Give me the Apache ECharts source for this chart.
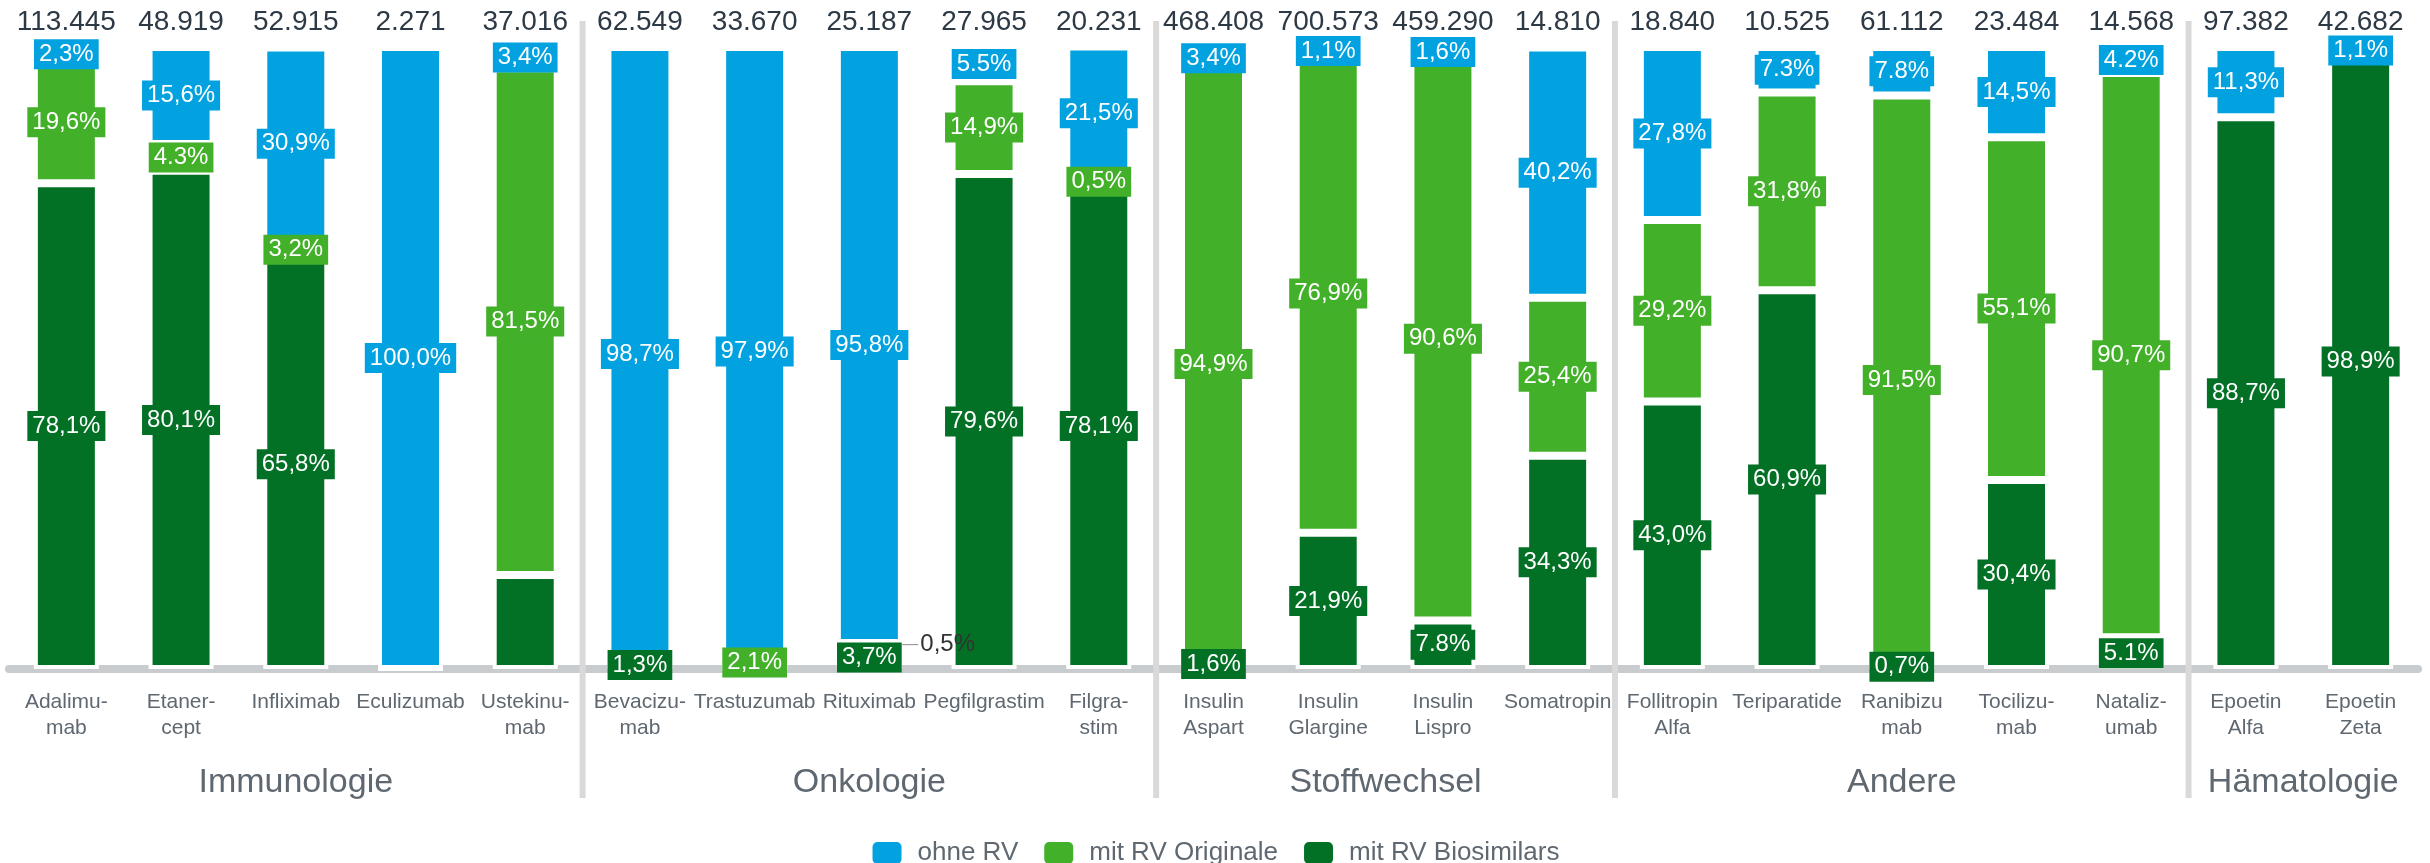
<!DOCTYPE html>
<html>
<head>
<meta charset="utf-8">
<script src="https://cdn.jsdelivr.net/npm/echarts@6/dist/echarts.min.js"></script>
<style>
  html, body { margin: 0; padding: 0; background: #fff; }
  #chart { width: 2430px; height: 863px; }
</style>
</head>
<body>
<div id="chart"></div>
<script>
  // Kategorien (Wirkstoffe) und Gesamtzahlen oben
  const categories = ['Adalimu-\nmab', 'Etaner-\ncept', 'Infliximab', 'Eculizumab', 'Ustekinu-\nmab',
    'Bevacizu-\nmab', 'Trastuzumab', 'Rituximab', 'Pegfilgrastim', 'Filgra-\nstim',
    'Insulin\nAspart', 'Insulin\nGlargine', 'Insulin\nLispro', 'Somatropin',
    'Follitropin\nAlfa', 'Teriparatide', 'Ranibizu\nmab', 'Tocilizu-\nmab', 'Nataliz-\numab',
    'Epoetin\nAlfa', 'Epoetin\nZeta'];
  const totals = ['113.445', '48.919', '52.915', '2.271', '37.016',
    '62.549', '33.670', '25.187', '27.965', '20.231',
    '468.408', '700.573', '459.290', '14.810',
    '18.840', '10.525', '61.112', '23.484', '14.568',
    '97.382', '42.682'];
  const groups = ['Immunologie', 'Onkologie', 'Stoffwechsel', 'Andere', 'Hämatologie'];
  const groupSizes = [5, 5, 4, 5, 2];

  // Anteile in %
  const ohneRV = [2.3, 15.6, 30.9, 100, 3.4, 98.7, 97.9, 95.8, 5.5, 21.5, 3.4, 1.1, 1.6, 40.2, 27.8, 7.3, 7.8, 14.5, 4.2, 11.3, 1.1];
  const originale = [19.6, 4.3, 3.2, 0, 81.5, 0, 2.1, 0.5, 14.9, 0.5, 94.9, 76.9, 90.6, 25.4, 29.2, 31.8, 91.5, 55.1, 90.7, 0, 0];
  const biosimilars = [78.1, 80.1, 65.8, 0, 15.1, 1.3, 0, 3.7, 79.6, 78.1, 1.6, 21.9, 7.8, 34.3, 43.0, 60.9, 0.7, 30.4, 5.1, 88.7, 98.9];

  // Beschriftungen wie im Original (leer = keine)
  const ohneLabels = ['2,3%', '15,6%', '30,9%', '100,0%', '3,4%', '98,7%', '97,9%', '95,8%', '5.5%', '21,5%',
    '3,4%', '1,1%', '1,6%', '40,2%', '27,8%', '7.3%', '7.8%', '14,5%', '4.2%', '11,3%', '1,1%'];
  const originaleLabels = ['19,6%', '4.3%', '3,2%', '', '81,5%', '', '2,1%', '0,5%', '14,9%', '0,5%',
    '94,9%', '76,9%', '90,6%', '25,4%', '29,2%', '31,8%', '91,5%', '55,1%', '90,7%', '', ''];
  const biosimilarLabels = ['78,1%', '80,1%', '65,8%', '', '', '1,3%', '', '3,7%', '79,6%', '78,1%',
    '1,6%', '21,9%', '7.8%', '34,3%', '43,0%', '60,9%', '0,7%', '30,4%', '5.1%', '88,7%', '98,9%'];
  const originaleOutside = [7];

  const FONT = 'Liberation Sans, Arial, sans-serif';
  const colors = { ohne: '#02a2e0', orig: '#43b02a', bio: '#037125' };

  function buildData(values, labels, outside) {
    return values.map(function (v, i) {
      let item = { value: v, label: { show: labels[i] !== '' && v > 0 } };
      if (outside && outside.indexOf(i) > -1) {
        item.label = {
          show: true, position: 'right', distance: 0,
          backgroundColor: 'transparent', color: '#333', padding: 0,
          formatter: '{l|—}' + labels[i],
          rich: { l: { color: '#999', fontSize: 16, padding: [0, 2, 0, 0] } }
        };
      }
      return item;
    });
  }

  function makeSeries(name, values, labels, color, outside) {
    return {
      name: name,
      type: 'bar',
      stack: 'total',
      barWidth: 65,
      itemStyle: { color: color, borderColor: '#fff', borderWidth: 4 },
      label: {
        show: true,
        position: 'inside',
        color: '#fff',
        fontFamily: FONT,
        fontSize: 24,
        lineHeight: 24,
        backgroundColor: color,
        padding: [3, 5],
        formatter: function (p) { return labels[p.dataIndex]; }
      },
      data: buildData(values, labels, outside)
    };
  }

  let myChart = echarts.init(document.getElementById('chart'));
  myChart.setOption({
    animation: false,
    grid: { left: 9, right: 12, top: 47, bottom: 194 },
    xAxis: [
      {
        type: 'category',
        data: categories,
        offset: 2,
        axisLine: { lineStyle: { color: '#c8cccf', width: 8 } },
        axisTick: { show: false },
        axisLabel: {
          interval: 0, hideOverlap: false, margin: 18,
          color: '#5f6870', fontFamily: FONT, fontSize: 21, lineHeight: 26
        }
      },
      {
        type: 'category',
        position: 'top',
        data: totals,
        axisLine: { show: false },
        axisTick: { show: false },
        axisLabel: {
          interval: 0, margin: 11,
          color: '#2d3945', fontFamily: FONT, fontSize: 28
        }
      }
    ],
    yAxis: { type: 'value', min: 0, max: 100, show: false },
    legend: {
      data: ['ohne RV', 'mit RV Originale', 'mit RV Biosimilars'],
      left: 'center',
      top: 835,
      itemWidth: 31,
      itemHeight: 24,
      itemGap: 24,
      textStyle: { color: '#5f6870', fontFamily: FONT, fontSize: 26, padding: [0, 0, 0, 10] }
    },
    series: [
      makeSeries('mit RV Biosimilars', biosimilars, biosimilarLabels, colors.bio),
      makeSeries('mit RV Originale', originale, originaleLabels, colors.orig, originaleOutside),
      makeSeries('ohne RV', ohneRV, ohneLabels, colors.ohne)
    ]
  });

  // Trennlinien und Gruppennamen aus den Achsenpositionen
  const px = categories.map(function (c, i) { return myChart.convertToPixel({ xAxisIndex: 0 }, i); });
  const step = px[1] - px[0];
  let graphics = [];
  let start = 0;
  groupSizes.forEach(function (n, g) {
    const end = start + n;
    const cx = (px[start] + px[end - 1]) / 2;
    graphics.push({
      type: 'text', x: cx, y: 783,
      style: {
        text: groups[g], fill: '#5f6870', font: '34px ' + FONT,
        textAlign: 'center', textVerticalAlign: 'middle'
      }
    });
    if (end < categories.length) {
      const bx = px[end - 1] + step / 2;
      graphics.push({
        type: 'line', z: 10,
        shape: { x1: bx, y1: 21, x2: bx, y2: 798 },
        style: { stroke: '#d9d9d9', lineWidth: 6 }
      });
    }
    start = end;
  });
  myChart.setOption({ graphic: graphics });
</script>
</body>
</html>
